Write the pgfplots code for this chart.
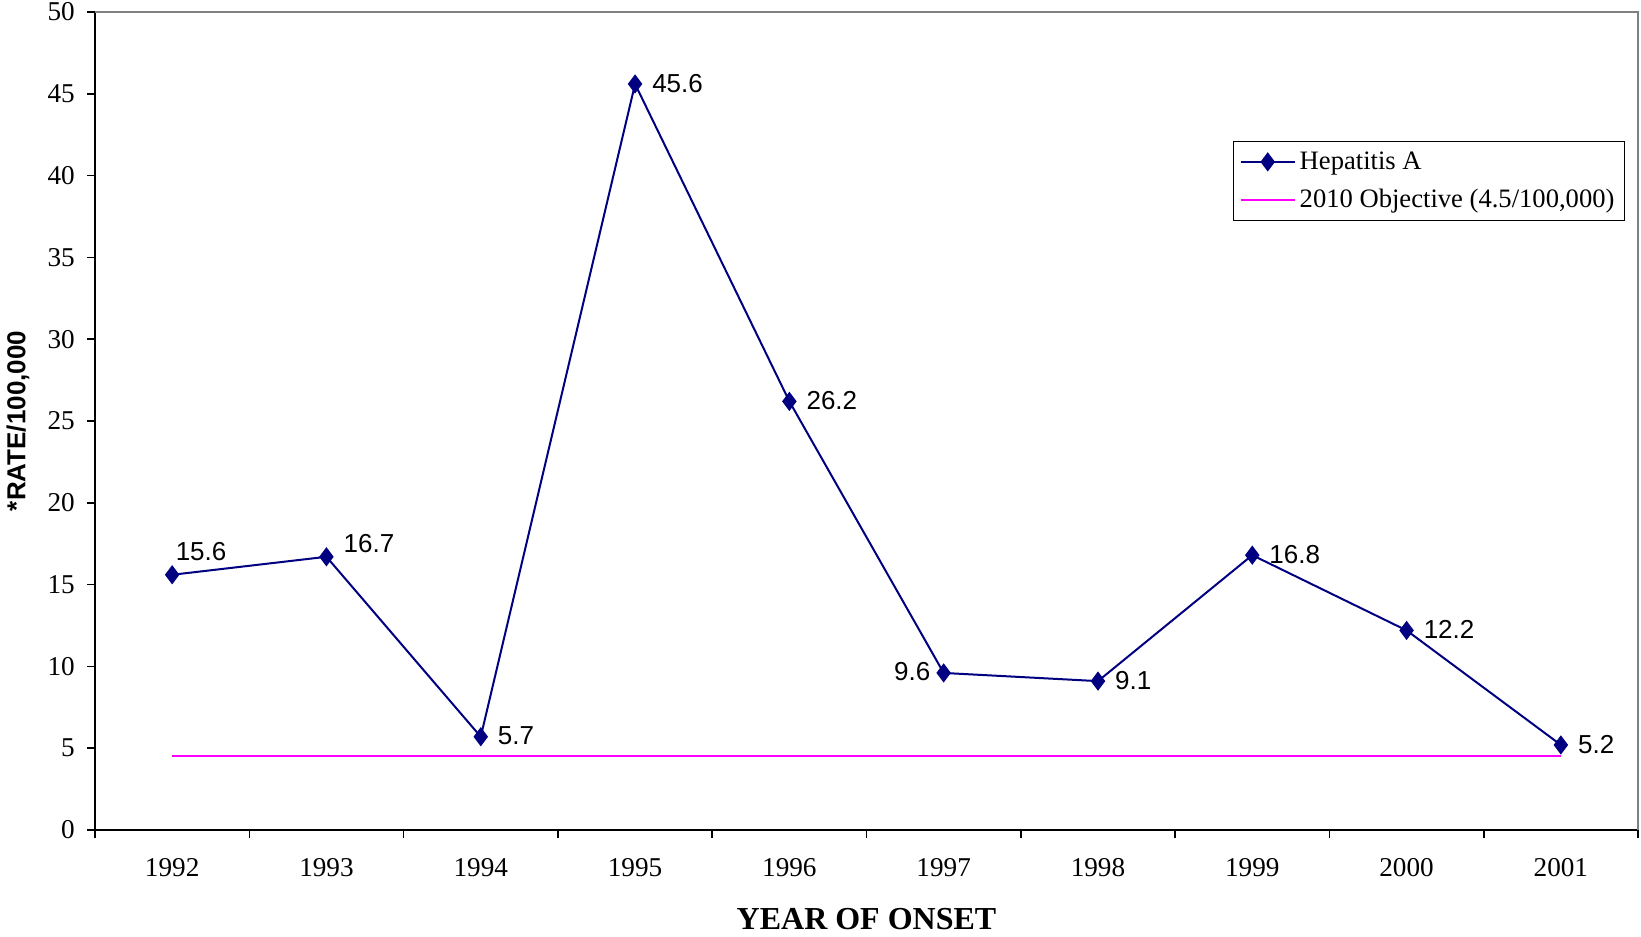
\documentclass[border=0pt]{standalone}
\usepackage{fontspec}
\setmainfont{Liberation Serif}
\newfontfamily\arial{Liberation Sans}
\usepackage{pgfplots}
\usepackage{pgfplotstable}
\pgfplotsset{compat=1.18}

\definecolor{hepblue}{RGB}{0,0,128}
\definecolor{objmag}{RGB}{255,0,255}
\definecolor{framegray}{RGB}{128,128,128}

% 1992..2001 at x = 1..10
\pgfplotstableread{
x  y
1  15.6
2  16.7
3  5.7
4  45.6
5  26.2
6  9.6
7  9.1
8  16.8
9  12.2
10 5.2
}\hepdata

\pgfplotsset{
    vlabel/.style={forget plot, draw=none, mark=none,
        point meta=explicit symbolic, nodes near coords,
        every node near coord/.append style={inner sep=0pt, text=black,
            font=\arial\fontsize{13}{15}\selectfont, #1}},
}

\begin{document}
\begin{tikzpicture}
\begin{axis}[
    scale only axis,
    width=771.5pt, height=409pt,
    xmin=0.5, xmax=10.5,
    ymin=0, ymax=50,
    axis x line=bottom, axis y line=left,
    axis line style={-, line width=1pt, black},
    xtick={1,...,10},
    xticklabels={1992,1993,1994,1995,1996,1997,1998,1999,2000,2001},
    minor xtick={0.5,1.5,...,10.5},
    major x tick style={draw=none},
    ytick={0,5,...,50},
    tick align=outside,
    major tick length=4pt, minor tick length=4pt,
    tick style={black, line width=0.8pt},
    /pgf/number format/assume math mode=true,
    ticklabel style={font=\fontsize{13.6}{15}\selectfont},
    xticklabel style={yshift=-6.8pt},
    yticklabel style={xshift=-2.6pt},
    legend style={
        at={(0.9916,0.8423)}, anchor=north east,
        draw=black, line width=0.6pt,
        font=\fontsize{13.3}{15}\selectfont,
        legend cell align=left,
        row sep=4.5pt, inner xsep=3pt, inner ysep=3pt,
    },
    legend image code/.code={\draw[mark repeat=2, mark phase=2, #1]
        plot coordinates {(0pt,0pt) (13.5pt,0pt) (27pt,0pt)};},
    legend image post style={line width=1pt},
]
\addplot[hepblue, line width=1pt, mark=diamond*, mark size=4pt,
    mark options={fill=hepblue, draw=hepblue}]
    table[x=x, y=y] {\hepdata};
\addlegendentry{Hepatitis A}

\addplot[objmag, line width=1pt, mark=none] coordinates {(1,4.5) (10,4.5)};
\addlegendentry{2010 Objective (4.5/100,000)}

% value labels
\addplot[vlabel={anchor=west, xshift=8.4pt, yshift=0.3pt},
    skip coords between index={0}{2}, skip coords between index={5}{6}]
    table[x=x, y=y, meta=y] {\hepdata};
\addplot[vlabel={anchor=west, xshift=1.6pt, yshift=11.5pt},
    skip coords between index={1}{10}]
    table[x=x, y=y, meta=y] {\hepdata};
\addplot[vlabel={anchor=west, xshift=8.4pt, yshift=6.8pt},
    skip coords between index={0}{1}, skip coords between index={2}{10}]
    table[x=x, y=y, meta=y] {\hepdata};
\addplot[vlabel={anchor=east, xshift=-6.5pt, yshift=0.5pt},
    skip coords between index={0}{5}, skip coords between index={6}{10}]
    table[x=x, y=y, meta=y] {\hepdata};
\end{axis}

\draw[framegray, line width=1pt] (current axis.north west) -- (current axis.north east) -- (current axis.south east);

\node[rotate=90, font=\arial\bfseries\fontsize{13}{15}\selectfont]
    at ([xshift=-38.5pt]current axis.west) {*RATE/100,000};
\node[font=\bfseries\fontsize{16}{18}\selectfont]
    at ([yshift=-44.5pt]current axis.south) {YEAR OF ONSET};

\pgfresetboundingbox
\path ([shift={(-47.5pt,-53pt)}]current axis.south west) rectangle ([shift={(1.5pt,6pt)}]current axis.north east);
\end{tikzpicture}
\end{document}
